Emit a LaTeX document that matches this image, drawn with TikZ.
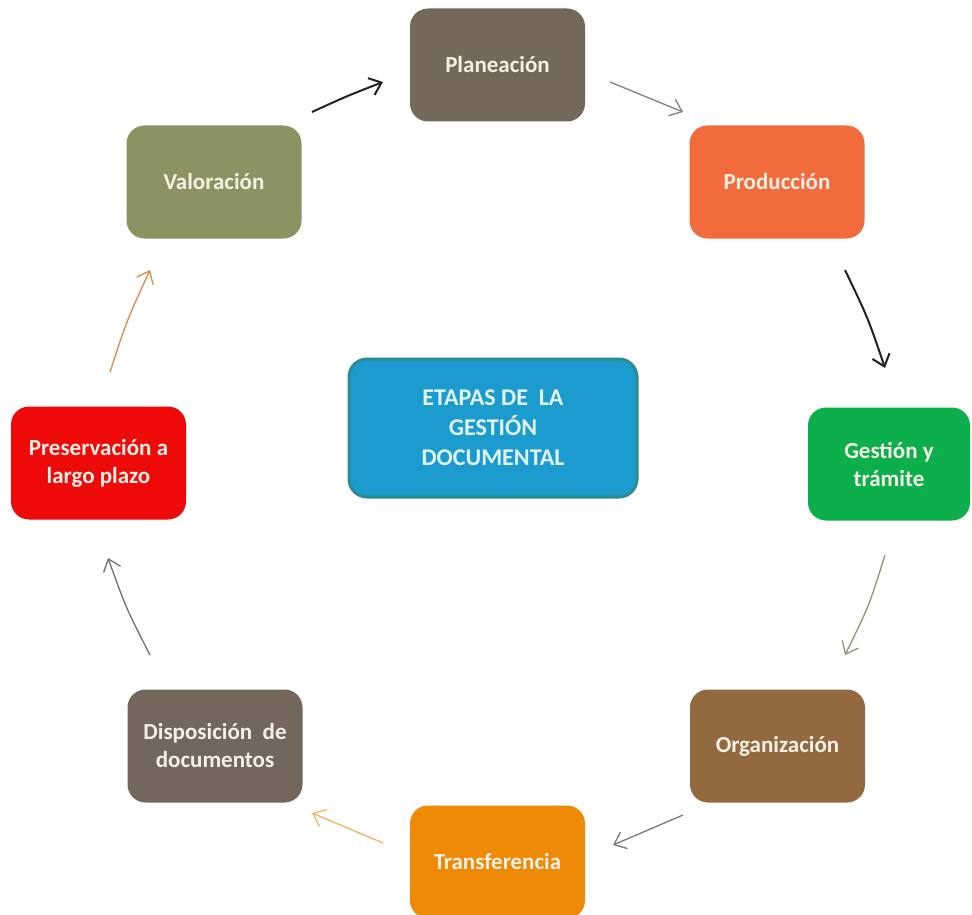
\documentclass[tikz,border=0pt]{standalone}
\usepackage{fontspec}
\setmainfont{Carlito}
\usetikzlibrary{arrows.meta}
\definecolor{cplan}{HTML}{74685A}
\definecolor{cprod}{HTML}{F26B3D}
\definecolor{cvalo}{HTML}{8D9263}
\definecolor{cgest}{HTML}{0DAE4C}
\definecolor{ccent}{HTML}{1B9BCE}
\definecolor{ccentb}{HTML}{2B8C8F}
\definecolor{cpres}{HTML}{EF0A0A}
\definecolor{cdisp}{HTML}{73665A}
\definecolor{corga}{HTML}{936A40}
\definecolor{ctran}{HTML}{EE8A06}
\definecolor{ctext}{HTML}{F5F0E6}
\definecolor{ctextc}{HTML}{E2F4FA}
\definecolor{aone}{HTML}{222222}
\definecolor{atwo}{HTML}{808080}
\definecolor{afour}{HTML}{8E9474}
\definecolor{afive}{HTML}{7A7A7A}
\definecolor{asix}{HTML}{F2B068}
\definecolor{aseven}{HTML}{707070}
\definecolor{aeight}{HTML}{D9894A}
\tikzset{
  stage/.style={rectangle, rounded corners=18pt, minimum width=175pt, minimum height=113pt,
    align=center, font=\fontsize{23}{28}\selectfont\bfseries, text=ctext, inner sep=0pt},
  conn/.style={-{Straight Barb[length=11pt,width=18pt]}, line width=1.3pt},
  connb/.style={conn, line width=2pt}
}
\begin{document}
\begin{tikzpicture}[x=1pt,y=-1pt]
\useasboundingbox[fill=white] (0,0) rectangle (972,915);
\clip (0,0) rectangle (972,915);
\node[stage, fill=cplan] (plan) at (497.5,65) {Planeación};
\node[stage, fill=cprod] (prod) at (777,182) {Producción};
\node[stage, fill=cvalo] (valo) at (214,182) {Valoración};
\node[stage, fill=cgest, minimum width=162pt] (gest) at (889,464) {Gestión y\\trámite};
\node[stage, fill=ccent, draw=ccentb, line width=3pt, minimum width=288pt, minimum height=138pt,
      font=\fontsize{24}{30}\selectfont\bfseries, text=ctextc] (cent) at (493,428) {ETAPAS DE~ LA\\GESTIÓN\\DOCUMENTAL};
\node[stage, fill=cpres] (pres) at (98.5,463) {Preservación a\\largo plazo};
\node[stage, fill=cdisp] (disp) at (215,746) {Disposición~ de\\documentos};
\node[stage, fill=corga] (orga) at (777.5,746) {Organización};
\node[stage, fill=ctran] (tran) at (497.5,862) {Transferencia};

\coordinate (a1s) at (312,112); \coordinate (a1e) at (383,82);
\coordinate (a2s) at (610,82);  \coordinate (a2e) at (683,112);
\coordinate (a3s) at (845,270); \coordinate (a3e) at (885,368);
\coordinate (a4s) at (885,555); \coordinate (a4e) at (845,655);
\coordinate (a5s) at (683,815); \coordinate (a5e) at (613,845);
\coordinate (a6s) at (383,843); \coordinate (a6e) at (312,813);
\coordinate (a7s) at (150,655); \coordinate (a7e) at (108,558);
\coordinate (a8s) at (110,372); \coordinate (a8e) at (150,270);

\draw[connb, aone] (a1s) .. controls (347,96) .. (a1e);
\draw[conn, atwo] (a2s) -- (a2e);
\draw[connb, aone] (a3s) .. controls (868,318) .. (a3e);
\draw[conn, afour] (a4s) .. controls (869,606) .. (a4e);
\draw[conn, afive] (a5s) -- (a5e);
\draw[conn, asix] (a6s) .. controls (348,829) .. (a6e);
\draw[conn, aseven] (a7s) .. controls (126,608) .. (a7e);
\draw[conn, aeight] (a8s) .. controls (127,320) .. (a8e);
\end{tikzpicture}
\end{document}
